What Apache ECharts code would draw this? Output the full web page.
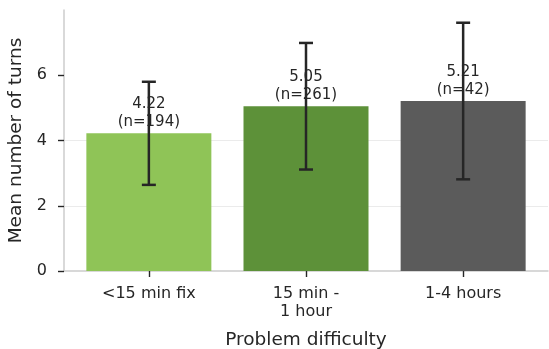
<!DOCTYPE html>
<html>
<head>
<meta charset="utf-8">
<script src="https://cdn.jsdelivr.net/npm/echarts@6/dist/echarts.min.js"></script>
<style>html,body{margin:0;padding:0;background:#fff}#c{width:549px;height:349px}</style>
</head>
<body>
<div id="c"></div>
<script>
const categories = ['<15 min fix', '15 min -\n1 hour', '1-4 hours'];
const means = [4.22, 5.05, 5.21];
const errors = [1.58, 1.94, 2.40];
const counts = [194, 261, 42];
const barColors = ['#8FC457', '#5D9139', '#5B5B5B'];
const yTicks = [0, 2, 4, 6];

const chart = echarts.init(document.getElementById('c'), null, {renderer: 'canvas'});
const font = 'DejaVu Sans';
const ink = '#262626';
const positions = categories.map((c, i) => i);

chart.setOption({
  animation: false,
  textStyle: {fontFamily: font},
  grid: {left: 64, right: 1, top: 10, bottom: 78, containLabel: false, outerBoundsMode: 'none'},
  xAxis: {
    type: 'value', min: -0.54, max: 2.54,
    name: 'Problem difficulty', nameLocation: 'middle', nameGap: 60,
    nameTextStyle: {fontSize: 18.5, color: ink, fontFamily: font},
    axisLine: {show: true, onZero: false, lineStyle: {color: '#cccccc', width: 1.5}},
    axisTick: {show: true, customValues: positions, length: 6, lineStyle: {color: ink, width: 1.4}},
    axisLabel: {customValues: positions, fontSize: 16, lineHeight: 18, color: ink, margin: 14,
      formatter: v => categories[Math.round(v)]},
    splitLine: {show: false}
  },
  yAxis: {
    type: 'value', min: 0, max: 8, interval: 2,
    name: 'Mean number of turns', nameLocation: 'middle', nameGap: 38,
    nameTextStyle: {fontSize: 18.5, color: ink, fontFamily: font},
    axisLine: {show: true, onZero: false, lineStyle: {color: '#cccccc', width: 1.5}},
    axisTick: {show: true, customValues: yTicks, length: 6, lineStyle: {color: ink, width: 1.4}},
    axisLabel: {customValues: yTicks, fontSize: 16, color: ink, margin: 17},
    splitLine: {show: true, showMaxLine: false, showMinLine: false, lineStyle: {color: '#ebebeb', width: 1}}
  },
  series: [
    {
      type: 'bar', barWidth: 125, z: 2,
      data: means.map((m, i) => ({value: [i, m], itemStyle: {color: barColors[i]}})),
      label: {
        show: true, position: 'top', distance: 2, fontSize: 15, lineHeight: 18, color: ink,
        formatter: p => means[p.dataIndex].toFixed(2) + '\n(n=' + counts[p.dataIndex] + ')'
      }
    },
    {
      type: 'custom', z: 10,
      data: means.map((m, i) => [i, m, errors[i]]),
      renderItem: (params, api) => {
        const x = api.value(0), m = api.value(1), e = api.value(2);
        const top = api.coord([x, m + e]);
        const bot = api.coord([x, m - e]);
        const cap = 7;
        const style = {stroke: ink, lineWidth: 2.5};
        return {type: 'group', children: [
          {type: 'line', shape: {x1: top[0], y1: top[1], x2: bot[0], y2: bot[1]}, style},
          {type: 'line', shape: {x1: top[0] - cap, y1: top[1], x2: top[0] + cap, y2: top[1]}, style},
          {type: 'line', shape: {x1: bot[0] - cap, y1: bot[1], x2: bot[0] + cap, y2: bot[1]}, style}
        ]};
      }
    }
  ]
});
</script>
</body>
</html>
